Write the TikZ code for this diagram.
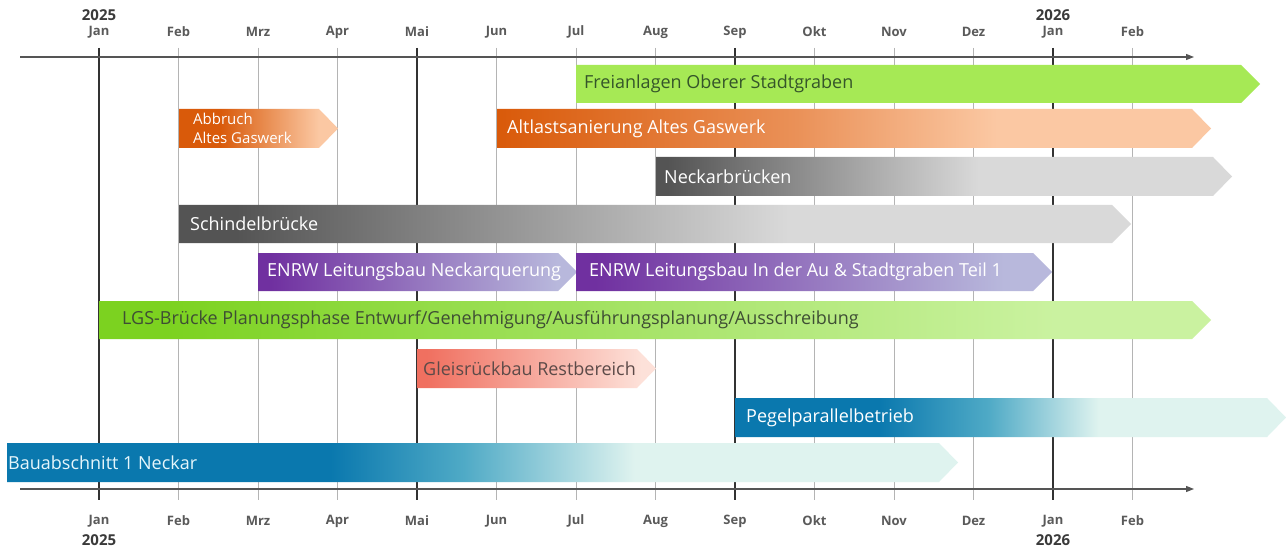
\documentclass[tikz,border=0pt]{standalone}
\usepackage{fontspec}
\setmainfont{Open Sans}
\usetikzlibrary{arrows.meta}
\definecolor{axisgray}{HTML}{555555}
\definecolor{gridgray}{HTML}{B4B4B4}
\definecolor{gridthick}{HTML}{333333}
\definecolor{monthgray}{HTML}{5A5A5A}
\definecolor{yeargray}{HTML}{3A3A3A}
\definecolor{freigreen}{HTML}{A6E955}
\definecolor{orD}{HTML}{D95A0A}
\definecolor{orM}{HTML}{EA9158}
\definecolor{orL}{HTML}{FBC8A3}
\definecolor{grD}{HTML}{545454}
\definecolor{grL}{HTML}{D9D9D9}
\definecolor{puD}{HTML}{7030A0}
\definecolor{puL}{HTML}{B8B8DC}
\definecolor{lgD}{HTML}{7CD220}
\definecolor{lgM}{HTML}{A8E46A}
\definecolor{lgL}{HTML}{CAF2A0}
\definecolor{saD}{HTML}{F07060}
\definecolor{saL}{HTML}{FDE1D9}
\definecolor{blD}{HTML}{0A78AE}
\definecolor{blM}{HTML}{4FAAC6}
\definecolor{blL}{HTML}{DFF3EF}
\definecolor{txgreen}{HTML}{35552A}
\definecolor{txlgs}{HTML}{3E4E34}
\definecolor{txsalmon}{HTML}{5C4A48}
\definecolor{txblue}{HTML}{E6F6FB}
% shadings: path box maps to 25bp..75bp
\pgfdeclarehorizontalshading{shAbbruch}{100bp}{color(0bp)=(orD); color(38bp)=(orD); color(69bp)=(orL); color(100bp)=(orL)}
\pgfdeclarehorizontalshading{shAltlast}{100bp}{color(0bp)=(orD); color(25bp)=(orD); color(46bp)=(orM); color(60bp)=(orL); color(100bp)=(orL)}
\pgfdeclarehorizontalshading{shNeckar}{100bp}{color(0bp)=(grD); color(26bp)=(grD); color(53bp)=(grL); color(100bp)=(grL)}
\pgfdeclarehorizontalshading{shSchindel}{100bp}{color(0bp)=(grD); color(28bp)=(grD); color(57bp)=(grL); color(100bp)=(grL)}
\pgfdeclarehorizontalshading{shEnrwA}{100bp}{color(0bp)=(puD); color(27bp)=(puD); color(72bp)=(puL); color(100bp)=(puL)}
\pgfdeclarehorizontalshading{shEnrwB}{100bp}{color(0bp)=(puD); color(27bp)=(puD); color(70bp)=(puL); color(100bp)=(puL)}
\pgfdeclarehorizontalshading{shLgs}{100bp}{color(0bp)=(lgD); color(28bp)=(lgD); color(50bp)=(lgM); color(68bp)=(lgL); color(100bp)=(lgL)}
\pgfdeclarehorizontalshading{shGleis}{100bp}{color(0bp)=(saD); color(27bp)=(saD); color(72bp)=(saL); color(100bp)=(saL)}
\pgfdeclarehorizontalshading{shPegel}{100bp}{color(0bp)=(blD); color(38bp)=(blD); color(48bp)=(blM); color(58bp)=(blL); color(100bp)=(blL)}
\pgfdeclarehorizontalshading{shBau}{100bp}{color(0bp)=(blD); color(42bp)=(blD); color(49bp)=(blM); color(58bp)=(blL); color(100bp)=(blL)}
\newcommand{\ganttbar}[6]{% name, x1, xtip, ytop, ybot, shading
  \coordinate (#1-s) at (#2,#4);
  \shade[shading=#6] (#2,#4) -- ({#3-19},#4) -- (#3,{(#4+#5)/2}) -- ({#3-19},#5) -- (#2,#5) -- cycle;
}
\tikzset{
  bartext/.style={anchor=west, inner sep=0pt, font=\fontsize{18}{20}\selectfont},
  smalltext/.style={anchor=west, inner sep=0pt, align=left, font=\fontsize{15}{19}\selectfont},
  monthlabel/.style={inner sep=0pt, text=monthgray, font=\fontsize{13}{15}\selectfont\bfseries},
  yearlabel/.style={inner sep=0pt, text=yeargray, font=\fontsize{15}{17}\selectfont\bfseries},
  axisline/.style={draw=axisgray, line width=1.2pt, -{Triangle[length=8pt,width=6pt]}},
  thinline/.style={draw=gridgray, line width=1pt},
  thickline/.style={draw=gridthick, line width=2.2pt},
}
\begin{document}
\begin{tikzpicture}[x=1pt,y=-1pt]
\useasboundingbox (0,0) rectangle (1287,548);
\fill[white] (0,0) rectangle (1287,548);
% grid lines and month labels
\foreach \m [count=\i from 0] in {Jan,Feb,Mrz,Apr,Mai,Jun,Jul,Aug,Sep,Okt,Nov,Dez,Jan,Feb}{
  \pgfmathsetmacro{\xx}{99+79.5*\i}
  \pgfmathtruncatemacro{\thick}{mod(\i,4)==0 ? 1 : 0}
  \coordinate (gt\i) at (\xx,48);
  \coordinate (gb\i) at (\xx,500);
  \ifnum\thick=1
    \draw[thickline] (gt\i) -- (gb\i);
  \else
    \draw[thinline] (gt\i) -- (gb\i);
  \fi
  \node[monthlabel] (mt\i) at (\xx,32) {\m};
  \node[monthlabel] (mb\i) at (\xx,521) {\m};
}
\node[yearlabel] (y1t) at (99,15) {2025};
\node[yearlabel] (y2t) at (1053,15) {2026};
\node[yearlabel] (y1b) at (99,540) {2025};
\node[yearlabel] (y2b) at (1053,540) {2026};
% axes
\coordinate (axTL) at (20,57);
\coordinate (axTR) at (1194,57);
\coordinate (axBL) at (20,489);
\coordinate (axBR) at (1194,489);
\draw[axisline] (axTL) -- (axTR);
\draw[axisline] (axBL) -- (axBR);
% bars
\coordinate (frei-s) at (576,65);
\fill[freigreen] (576,65) -- (1241,65) -- (1260,84) -- (1241,103) -- (576,103) -- cycle;
\node[bartext, text=txgreen] (tfrei) at (584,84) {Freianlagen Oberer Stadtgraben};

\ganttbar{abbruch}{179}{338}{109}{148}{shAbbruch}
\node[smalltext, text=white] (tabbruch) at (193,128.5) {Abbruch\\Altes Gaswerk};

\ganttbar{altlast}{497}{1211}{109}{148}{shAltlast}
\node[bartext, text=white] (taltlast) at (507,128.5) {Altlastsanierung Altes Gaswerk};

\ganttbar{neckar}{656}{1232}{157}{196}{shNeckar}
\node[bartext, text=white] (tneckar) at (664,176.5) {Neckarbrücken};

\ganttbar{schindel}{179}{1131}{205}{243}{shSchindel}
\node[bartext, text=white] (tschindel) at (190,224) {Schindelbrücke};

\ganttbar{enrwa}{258}{577}{253}{291}{shEnrwA}
\node[bartext, text=white] (tenrwa) at (267,272) {ENRW Leitungsbau Neckarquerung};

\ganttbar{enrwb}{576}{1052}{253}{291}{shEnrwB}
\node[bartext, text=white] (tenrwb) at (589,272) {ENRW Leitungsbau In der Au \& Stadtgraben Teil 1};

\ganttbar{lgs}{99}{1211}{301}{339}{shLgs}
\node[bartext, text=txlgs] (tlgs) at (122,320) {LGS-Brücke Planungsphase Entwurf/Genehmigung/Ausführungsplanung/Ausschreibung};

\ganttbar{gleis}{417}{656}{349}{388}{shGleis}
\node[bartext, text=txsalmon] (tgleis) at (423,368.5) {Gleisrückbau Restbereich};

\ganttbar{pegel}{735}{1286}{398}{437}{shPegel}
\node[bartext, text=white] (tpegel) at (746,417.5) {Pegelparallelbetrieb};

\ganttbar{bau}{7}{958}{443}{482}{shBau}
\node[bartext, text=txblue] (tbau) at (8,462.5) {Bauabschnitt 1 Neckar};
\end{tikzpicture}
\end{document}
